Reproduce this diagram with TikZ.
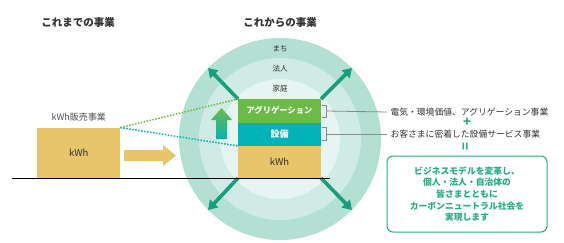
\documentclass[tikz,border=0pt]{standalone}
\usepackage{fontspec}
\setmainfont{Noto Sans CJK JP}
\usepackage{tikz}
\usetikzlibrary{positioning, arrows.meta, calc, backgrounds}
\definecolor{ringOuter}{HTML}{B4E0D4}
\definecolor{ringMid}{HTML}{CFEBE3}
\definecolor{ringInner}{HTML}{E6F5F1}
\definecolor{aggGreen}{HTML}{6CBB47}
\definecolor{facTeal}{HTML}{00B4B8}
\definecolor{kwhYellow}{HTML}{E8C46B}
\definecolor{spreadGreen}{HTML}{179E7C}
\definecolor{goalGreen}{HTML}{23AE7E}
\definecolor{inkGray}{HTML}{333333}
\definecolor{bracketGray}{HTML}{8A8A8A}

\begin{document}
\begin{tikzpicture}[x=1pt, y=-1pt,
    layer/.style={minimum width=83pt, inner sep=0pt, outer sep=0pt},
    spread/.style={-{Triangle[width=11pt, length=9pt]}, line width=3.6pt, spreadGreen},
    ringlabel/.style={font=\fontsize{7.5}{9}\selectfont, text=inkGray},
    linkdots/.style={line width=1.5pt, dash pattern=on 1.5pt off 1.5pt},
    bracket/.style={bracketGray, line width=0.8pt}]
    \useasboundingbox (0,0) rectangle (564,243);
    % titles
    \node[font=\fontsize{10.5}{12}\selectfont\bfseries, text=inkGray] (pastTitle) at (78,23) {これまでの事業};
    \node[font=\fontsize{10.5}{12}\selectfont\bfseries, text=inkGray] (futureTitle) at (280,23) {これからの事業};
    % stacked business
    \node[layer, fill=aggGreen, minimum height=23.5pt, anchor=north west,
      font=\fontsize{8.3}{10}\selectfont\bfseries, text=white] (agg) at (238,99) {アグリゲーション};
    \node[layer, fill=facTeal, minimum height=23.5pt, below=0pt of agg,
      font=\fontsize{9}{10}\selectfont\bfseries, text=white] (fac) {設備};
    \node[layer, fill=kwhYellow, minimum height=32pt, below=0pt of fac,
      font=\fontsize{9.5}{11}\selectfont, text=inkGray] (kwh) {kWh};
    % rings and spreading arrows behind the stack
    \coordinate (ctr) at (280,139);
    \coordinate (tlTip) at (208,68);
    \coordinate (trTip) at (352,68);
    \coordinate (blTip) at (208,210);
    \coordinate (brTip) at (352,210);
    \begin{scope}[on background layer]
      \fill[ringOuter] (ctr) circle (101);
      \fill[ringMid] (ctr) circle (81);
      \fill[ringInner] (ctr) circle (60);
      \draw[spread] (agg.north west) -- (tlTip);
      \draw[spread] (agg.north east) -- (trTip);
      \draw[spread] (kwh.south west) -- (blTip);
      \draw[spread] (kwh.south east) -- (brTip);
    \end{scope}
    \node[ringlabel] (town) at (280,49) {まち};
    \node[ringlabel] (corp) at (280,69) {法人};
    \node[ringlabel] (home) at (280,89) {家庭};
    % growth arrow
    \shade[top color=aggGreen, bottom color=facTeal]
      (221.5,108) -- (232,120) -- (227,120) -- (227,139) -- (216,139)
      -- (216,120) -- (211,120) -- cycle;
    % past business
    \node[fill=kwhYellow, minimum width=83pt, minimum height=50pt, inner sep=0pt,
      anchor=south west, font=\fontsize{9.5}{11}\selectfont, text=inkGray] (oldKwh) at (37,178) {kWh};
    \node[font=\fontsize{9}{11}\selectfont, text=inkGray!85, above=3pt of oldKwh] (oldLabel) {kWh販売事業};
    \draw[aggGreen, linkdots] (oldKwh.north east) -- (agg.north west);
    \draw[facTeal, linkdots] (oldKwh.north east) -- (fac.south west);
    \fill[kwhYellow] (124,150) -- (163,150) -- (163,145) -- (176,155.5)
      -- (163,166) -- (163,161) -- (124,161) -- cycle;
    % ground line
    \coordinate (groundL) at (12,178.5);
    \coordinate (groundR) at (330,178.5);
    \draw[black, line width=0.9pt] (groundL) -- (groundR);
    % right-hand explanation
    \node[anchor=west, font=\fontsize{8.8}{10}\selectfont, text=inkGray] (line1) at (387,112) {電気・環境価値、アグリゲーション事業};
    \node[font=\fontsize{13}{13}\selectfont\bfseries, text=goalGreen] (plus) at (467,122.5) {+};
    \node[anchor=west, font=\fontsize{8.8}{10}\selectfont, text=inkGray] (line2) at (387,134) {お客さまに密着した設備サービス事業};
    \node[font=\fontsize{13}{13}\selectfont\bfseries, text=goalGreen, rotate=90] (equal) at (467,146.5) {=};
    \draw[bracket] (322,105) -- (326,105) -- (326,117) -- (322,117);
    \draw[bracket] (322,127.5) -- (326,127.5) -- (326,140.5) -- (322,140.5);
    \draw[bracket] (326,111) -- (line1.west);
    \draw[bracket] (326,134) -- (line2.west);
    \node[draw=goalGreen, line width=1pt, rounded corners=6pt, minimum width=160pt,
      minimum height=76pt, align=center, text=goalGreen,
      font=\fontsize{8.8}{11.7}\selectfont\bfseries] (goal) at (467,194)
      {ビジネスモデルを変革し、\\個人・法人・自治体の\\皆さまとともに\\カーボンニュートラル社会を\\実現します};
\end{tikzpicture}
\end{document}
